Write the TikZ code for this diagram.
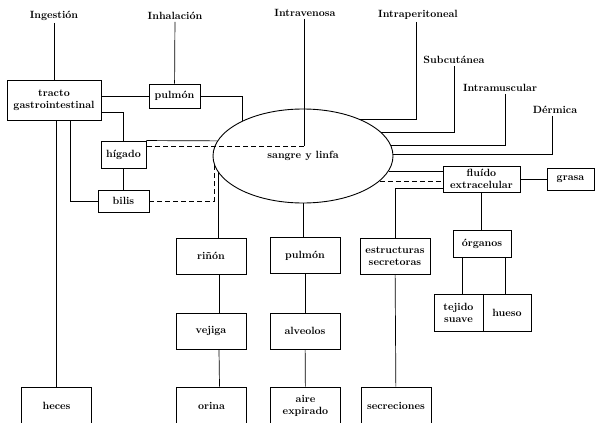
\documentclass[tikz,border=0pt]{standalone}
\usetikzlibrary{shapes.geometric}

\begin{document}
\begin{tikzpicture}[
      x=1pt, y=-1pt,
      box/.style={draw, line width=0.9pt, align=center, inner sep=1pt,
                  font=\bfseries\fontsize{10.5}{12}\selectfont,
                  minimum width=70pt, minimum height=36pt},
      route/.style={font=\bfseries\fontsize{10.5}{12}\selectfont, inner sep=2pt},
      hub/.style={draw, ellipse, line width=0.9pt, inner sep=0pt,
                  minimum width=180pt, minimum height=94pt,
                  font=\bfseries\fontsize{10.5}{12}\selectfont},
      link/.style={line width=0.7pt},
      flux/.style={link, dash pattern=on 5pt off 3pt}
    ]
    \useasboundingbox (0,0) rectangle (595,423);
    % routes of entry
    \node[route] (ingestion) at (54,16) {Ingestión};
    \node[route] (inhalacion) at (175,16) {Inhalación};
    \node[route] (intraven) at (305,13) {Intravenosa};
    \node[route] (intraper) at (418,15) {Intraperitoneal};
    \node[route] (subcut) at (454,60) {Subcutánea};
    \node[route] (intramusc) at (500,88) {Intramuscular};
    \node[route] (dermica) at (555,110) {Dérmica};
    % compartments
    \node[box, minimum width=94pt, minimum height=40pt] (tracto) at (54,100) {tracto\\gastrointestinal};
    \node[box, minimum width=51pt, minimum height=24pt] (pulmonA) at (174.5,96) {pulmón};
    \node[box, minimum width=45pt, minimum height=27pt] (higado) at (123.5,154.5) {hígado};
    \node[box, minimum width=51pt, minimum height=22pt] (bilis) at (123.5,201) {bilis};
    \node[hub] (sangre) at (303,156) {sangre y linfa};
    \node[box] (rinon) at (211,256) {riñón};
    \node[box] (pulmonB) at (305,255.5) {pulmón};
    \node[box] (estruct) at (395,256) {estructuras\\secretoras};
    \node[box] (vejiga) at (211,331) {vejiga};
    \node[box] (alveolos) at (305,331) {alveolos};
    \node[box, minimum width=77pt, minimum height=26pt] (fluido) at (481.5,179) {fluído\\extracelular};
    \node[box, minimum width=47pt, minimum height=22pt] (grasa) at (570.5,179) {grasa};
    \node[box, minimum width=58pt, minimum height=27pt] (organos) at (482,243.5) {órganos};
    \node[box, minimum width=49pt, minimum height=37pt] (tejido) at (458.5,312.5) {tejido\\suave};
    \node[box, minimum width=48pt, minimum height=37pt] (hueso) at (507,312.5) {hueso};
    % excretion
    \node[box, minimum height=38pt] (heces) at (56.5,406) {heces};
    \node[box, minimum height=38pt] (orina) at (211.5,406) {orina};
    \node[box, minimum height=38pt] (aire) at (305.5,406) {aire\\expirado};
    \node[box, minimum height=38pt] (secrec) at (396,406) {secreciones};
    \coordinate (ivk) at (304,146);
    % connectors, left side
    \draw[link] (ingestion) -- (tracto);
    \draw[link] (inhalacion) -- (pulmonA);
    \draw[link] (tracto.east |- pulmonA.west) -- (pulmonA.west);
    \draw[link] (pulmonA.east) -| (sangre.150.5);
    \draw[link] ([yshift=-12pt]tracto.east) -| (higado.north);
    \draw[link] ([xshift=16pt]tracto.south) |- (bilis.west);
    \draw[link] (tracto.south -| heces.north) -- (heces.north);
    \draw[link] (higado) -- (bilis);
    \draw[link] (higado.north east) -- (sangre.170);
    \draw[link] ([xshift=-1pt]intraven.south) -- (ivk);
    \draw[flux] (ivk) -- (ivk -| higado.east);
    \draw[flux] (bilis.east) -| (sangre.186.5);
    % connectors, bottom
    \draw[link] (sangre.191.4) -- (sangre.191.4 |- rinon.north);
    \draw[link] ([xshift=8pt]rinon.south) -- ([xshift=8pt]vejiga.north);
    \draw[link] ([xshift=8pt]vejiga.south) -- ([xshift=8pt]orina.north);
    \draw[link] (sangre.south) -- (sangre.south |- pulmonB.north);
    \draw[link] (pulmonB) -- (alveolos);
    \draw[link] (alveolos) -- (aire);
    \draw[link] (estruct) -- (secrec);
    % connectors, right side
    \draw[link] ([xshift=-2pt]intraper.south) |- (sangre.33.7);
    \draw[link] (subcut.south) |- (sangre.17.2);
    \draw[link] ([xshift=5pt]intramusc.south) |- (sangre.7.2);
    \draw[link] ([xshift=-3pt]dermica.south) |- (sangre.1.9);
    \draw[link] (sangre.350) -- (sangre.350 -| fluido.west);
    \draw[flux] (sangre.342.8) -- (sangre.342.8 -| fluido.west);
    \draw[link] ([yshift=-9pt]fluido.west) -| (estruct.north);
    \draw[link] (fluido) -- (grasa);
    \draw[link] (fluido.south) -- (fluido.south |- organos.north);
    \draw[link] ([xshift=-20pt]organos.south) -- ([xshift=-20pt]organos.south |- tejido.north);
    \draw[link] ([xshift=23pt]organos.south) -- ([xshift=23pt]organos.south |- hueso.north);
  \end{tikzpicture}
\end{document}
